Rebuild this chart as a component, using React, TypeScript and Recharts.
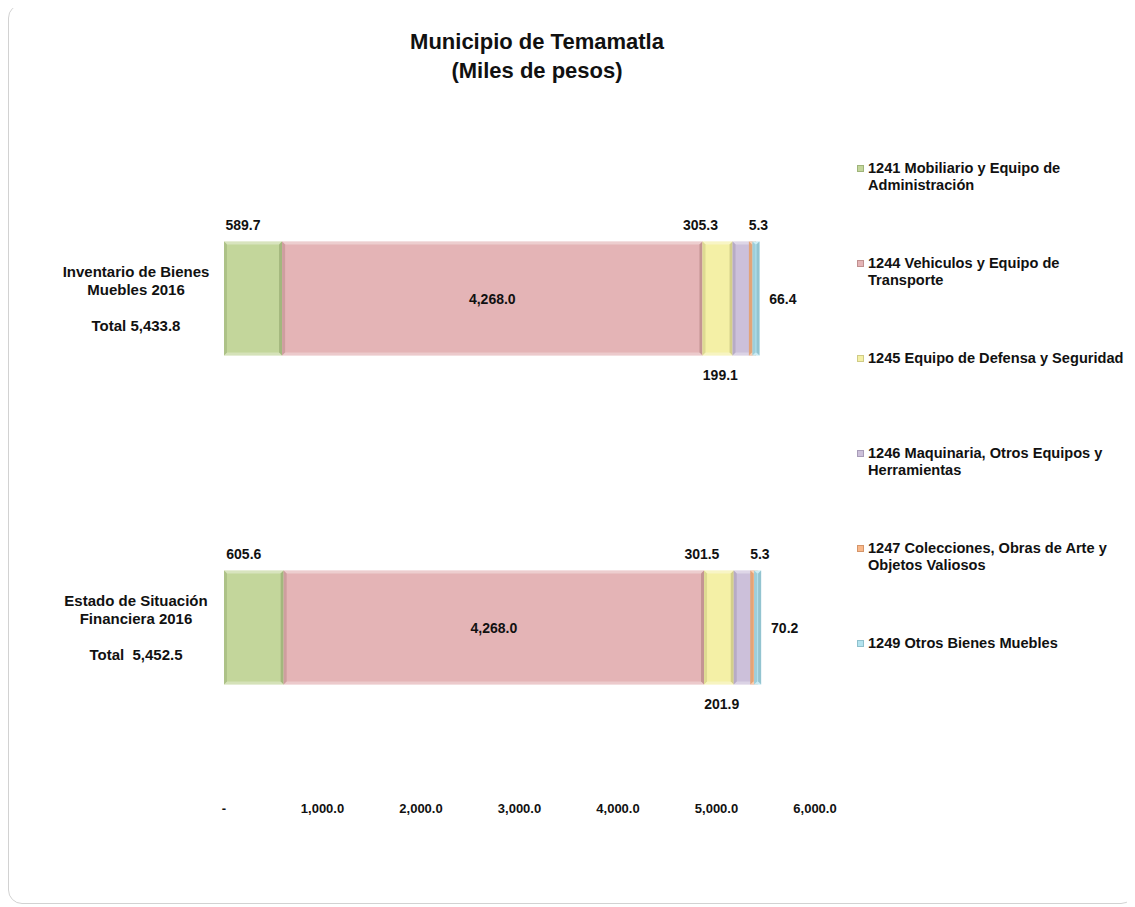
import React from 'react';
import { BarChart, Bar, XAxis, YAxis, Legend, LabelList } from 'recharts';

const categories = ['Inventario de Bienes Muebles 2016', 'Estado de Situación Financiera 2016'];
const categoryLines = [
  ['Inventario de Bienes', 'Muebles 2016', '', 'Total 5,433.8'],
  ['Estado de Situación', 'Financiera 2016', '', 'Total  5,452.5'],
];
const seriesKeys = ['s1241', 's1244', 's1245', 's1246', 's1247', 's1249'];
const seriesNames = [
  '1241 Mobiliario y Equipo de\nAdministración',
  '1244 Vehiculos y Equipo de\nTransporte',
  '1245 Equipo de Defensa y Seguridad',
  '1246 Maquinaria, Otros Equipos y\nHerramientas',
  '1247 Colecciones, Obras de Arte y\nObjetos Valiosos',
  '1249 Otros Bienes Muebles',
];
const seriesColors = ['#c3d69b', '#e4b4b6', '#f4f0a6', '#ccc0da', '#f9b88a', '#b3e3ef'];
const edgeColors = ['#9fb47a', '#c0908f', '#cfcb86', '#a89cb8', '#d4956a', '#8fc0cc'];
const s1241 = [589.7, 605.6];
const s1244 = [4268.0, 4268.0];
const s1245 = [305.3, 301.5];
const s1246 = [199.1, 201.9];
const s1247 = [5.3, 5.3];
const s1249 = [66.4, 70.2];
const xTicks = [0, 1000, 2000, 3000, 4000, 5000, 6000];

const data = categories.map((name, i) => ({
  name,
  idx: i,
  s1241: s1241[i],
  s1244: s1244[i],
  s1245: s1245[i],
  s1246: s1246[i],
  s1247: s1247[i],
  s1249: s1249[i],
}));

const FONT = '"Liberation Sans", Arial, sans-serif';

const fmt = (v: number) =>
  v === 0 ? '-' : v.toLocaleString('en-US', { minimumFractionDigits: 1, maximumFractionDigits: 1 });

const makeShape = (i: number) => (props: any) => {
  let { x, y, width, height } = props;
  if (width < 7) {
    const c = x + width / 2;
    width = 7;
    x = c - 3.5;
  }
  const b = Math.min(3, width / 2);
  const fill = seriesColors[i];
  const edge = edgeColors[i];
  return (
    <g>
      <rect x={x} y={y} width={width} height={height} fill={fill} />
      <polygon
        points={`${x},${y} ${x + width},${y} ${x + width - b},${y + b} ${x + b},${y + b}`}
        fill="#ffffff"
        fillOpacity={0.35}
      />
      <polygon
        points={`${x},${y} ${x + b},${y + b} ${x + b},${y + height - b} ${x},${y + height}`}
        fill={edge}
        fillOpacity={0.6}
      />
      <polygon
        points={`${x + width},${y} ${x + width - b},${y + b} ${x + width - b},${y + height - b} ${x + width},${y + height}`}
        fill={edge}
        fillOpacity={0.9}
      />
      <polygon
        points={`${x},${y + height} ${x + b},${y + height - b} ${x + width - b},${y + height - b} ${x + width},${y + height}`}
        fill="#ffffff"
        fillOpacity={0.3}
      />
    </g>
  );
};

type Pos = 'above' | 'center' | 'below' | 'right';
const labelPos: Pos[] = ['above', 'center', 'above', 'below', 'above', 'right'];
const labelDx = [-10, 0, -17, -22, 6, 10];

const makeLabel = (i: number) => (props: any) => {
  const { x, y, width, height, value } = props;
  const pos = labelPos[i];
  let tx = x + width / 2 + labelDx[i];
  let ty = y + height / 2 + 5;
  let anchor: any = 'middle';
  if (pos === 'above') ty = y - 12;
  if (pos === 'below') ty = y + height + 24;
  if (pos === 'right') {
    tx = x + width + labelDx[i];
    anchor = 'start';
  }
  return (
    <text x={tx} y={ty} textAnchor={anchor} fontFamily={FONT} fontWeight="bold" fontSize={14} fill="#111">
      {fmt(value)}
    </text>
  );
};

const lineOffsets = [-26, -8, 10, 28];

const YTick = (props: any) => {
  const { y, index } = props;
  const lines = categoryLines[index] || [];
  return (
    <g>
      {lines.map((l, k) => (
        <text
          key={k}
          x={127}
          y={y + lineOffsets[k] + 5}
          textAnchor="middle"
          fontFamily={FONT}
          fontWeight="bold"
          fontSize={15}
          fill="#111"
          style={{ whiteSpace: 'pre' }}
        >
          {l}
        </text>
      ))}
    </g>
  );
};

const XTick = (props: any) => {
  const { x, y, payload } = props;
  return (
    <text x={x} y={y + 13} textAnchor="middle" fontFamily={FONT} fontWeight="bold" fontSize={13} fill="#111">
      {fmt(payload.value)}
    </text>
  );
};

const LegendContent = () => (
  <div style={{ fontFamily: FONT, fontWeight: 'bold', fontSize: 14.6, color: '#111' }}>
    {seriesNames.map((n, i) => (
      <div key={i} style={{ height: 95, display: 'flex', alignItems: 'flex-start' }}>
        <div
          style={{
            width: 7,
            height: 7,
            marginTop: 5,
            background: seriesColors[i],
            border: `1px solid ${edgeColors[i]}`,
            boxSizing: 'border-box',
            flexShrink: 0,
          }}
        />
        <div style={{ marginLeft: 4, whiteSpace: 'pre', lineHeight: '17px' }}>{n}</div>
      </div>
    ))}
  </div>
);

export default function App() {
  return (
    <div
      style={{
        position: 'relative',
        width: 1127,
        height: 900,
        marginTop: -4,
        border: '1px solid #d2d2d2',
        borderRadius: 14,
        boxSizing: 'border-box',
        background: '#ffffff',
      }}
    >
      <div
        style={{
          position: 'absolute',
          left: 0,
          top: 21.5,
          width: 1056,
          textAlign: 'center',
          fontFamily: FONT,
          fontWeight: 'bold',
          fontSize: 22,
          lineHeight: '29px',
          color: '#111',
          zIndex: 2,
        }}
      >
        Municipio de Temamatla
        <br />
        (Miles de pesos)
      </div>
      <BarChart
        width={1125}
        height={898}
        data={data}
        layout="vertical"
        barSize={114}
        margin={{ top: 128.5, right: 42, bottom: 81.5, left: 0 }}
      >
        <XAxis
          type="number"
          domain={[0, 6000]}
          ticks={xTicks}
          axisLine={false}
          tickLine={false}
          height={30}
          tick={<XTick />}
          interval={0}
        />
        <YAxis
          type="category"
          dataKey="name"
          width={215}
          axisLine={false}
          tickLine={false}
          tick={<YTick />}
          interval={0}
        />
        <Legend
          layout="vertical"
          align="right"
          verticalAlign="top"
          width={277}
          wrapperStyle={{ left: 848, top: 154.5, right: 'auto' }}
          content={<LegendContent />}
        />
        {seriesKeys.map((k, i) => (
          <Bar
            key={k}
            dataKey={k}
            name={seriesNames[i]}
            stackId="a"
            fill={seriesColors[i]}
            shape={makeShape(i)}
            isAnimationActive={false}
          >
            <LabelList dataKey={k} content={makeLabel(i)} />
          </Bar>
        ))}
      </BarChart>
    </div>
  );
}
